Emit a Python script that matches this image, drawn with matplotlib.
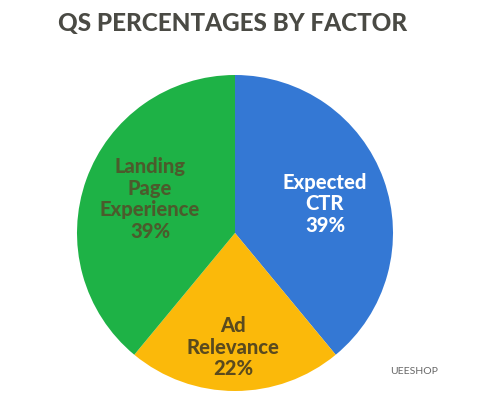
import matplotlib
matplotlib.use("Agg")
import matplotlib.pyplot as plt

categories = ["Expected\nCTR", "Ad\nRelevance", "Landing\nPage\nExperience"]
values = [39, 22, 39]
colors = ["#3478D4", "#FBB90A", "#1EB246"]
text_colors = ["#FFFFFF", "#5A4A1E", "#4B5B2C"]
title = "QS PERCENTAGES BY FACTOR"

plt.rcParams['font.family'] = ['Lato', 'DejaVu Sans']

fig = plt.figure(figsize=(4.87, 3.99), dpi=100)
fig.patch.set_facecolor("white")

cx, cy, r = 235, 233, 158
W, H = 487, 399
ax = fig.add_axes([(cx - r) / W, (H - cy - r) / H, 2 * r / W, 2 * r / H])
wedges, _ = ax.pie(values, colors=colors, startangle=90, counterclock=False,
                   radius=1.0, wedgeprops=dict(linewidth=0))
ax.set_xlim(-1, 1)
ax.set_ylim(-1, 1)
ax.set_aspect("equal")
ax.axis("off")

def px(x, y):
    return (x - cx) / r, (cy - y) / r

label_px = [(325, 204), (233, 347), (150, 199)]
for lab, v, tc, (lx, ly) in zip(categories, values, text_colors, label_px):
    x, y = px(lx, ly)
    ax.text(x, y, f"{lab}\n{v}%", ha="center", va="center", color=tc,
            fontsize=14.5, fontweight="black", linespacing=1.15)

fig.text(233 / W, 1 - 23 / H, title, ha="center", va="center",
         color="#4A4A44", fontsize=17.5, fontweight="black")

fig.text(390 / W, 1 - 372 / H, "UEESHOP", ha="left", va="center",
         color="#666666", fontsize=7.5)

fig.savefig("out.png", dpi=100, facecolor="white")
